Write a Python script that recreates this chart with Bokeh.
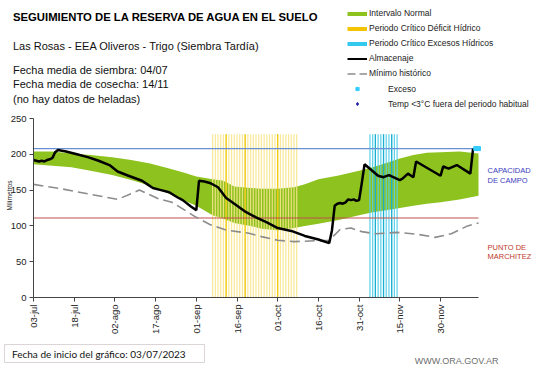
import math
from bokeh.plotting import figure
from bokeh.models import Range1d, FixedTicker, Label, Legend, LegendItem, BoxAnnotation
from bokeh.embed import file_html
from bokeh.resources import INLINE

# ---------------- data (days since 03/07/2023, millimetres) ----------------
tick_days = [0, 15, 30, 45, 60, 75, 90, 105, 120, 135, 150]
tick_labels = ["03-jul", "18-jul", "02-ago", "17-ago", "01-sep", "16-sep",
               "01-oct", "16-oct", "31-oct", "15-nov", "30-nov"]
y_ticks = [0, 50, 100, 150, 200, 250]
dia_fin = 164
y_max = 250

band_day = [0, 7, 14, 21, 29, 36, 43, 50, 55, 60, 66, 70, 74, 80, 84, 90, 96,
            100, 105, 112, 120, 125, 130, 135, 140, 145, 150, 157, 164]
band_upper = [204, 204, 201, 199, 196, 192, 187, 180, 175, 169, 165, 163, 155,
              153, 152, 152, 154, 158, 165, 170, 177, 182, 188, 194, 199, 202,
              203, 204, 201]
band_lower = [186, 184, 182, 177, 171, 164, 156, 145, 136, 128, 115, 110, 104,
              100, 96, 94, 97, 100, 103, 108, 115, 119, 122, 125, 128, 131,
              133, 137, 142]

almac_day = [0, 1, 2, 3, 4, 5, 6, 7, 8, 9, 12, 16, 20, 24, 28, 31, 35, 40, 42,
             44, 47, 50, 53, 55, 58, 60, 61, 63, 65, 68, 71, 74, 78, 82, 86,
             90, 95, 100, 105, 109, 110, 111, 112, 113, 114, 115, 116, 117,
             118, 119, 120, 121, 122, 127, 129, 131, 135, 136, 138, 140, 141,
             150, 151, 153, 156, 161, 162]
almac_mm = [192, 191, 190, 191, 190, 192, 193, 195, 203, 206, 204, 200, 196,
            191, 185, 176, 170, 163, 158, 153, 150, 147, 140, 136, 127, 122,
            163, 162, 160, 154, 139, 131, 120, 112, 105, 97, 93, 86, 81, 76,
            94, 128, 131, 132, 131, 133, 137, 136, 137, 135, 136, 160, 186,
            170, 168, 171, 164, 166, 173, 168, 190, 170, 183, 180, 185, 173,
            208]

min_day = [0, 10, 31, 39, 46, 51, 60, 65, 71, 79, 84, 90, 96, 109, 113, 117,
           121, 126, 134, 142, 148, 154, 160, 164]
min_mm = [158, 152, 137, 150, 138, 133, 112, 102, 94, 90, 85, 80, 78, 80, 95,
          97, 92, 89, 91, 88, 84, 89, 100, 104]

deficit_inicio, deficit_fin = 66, 97
deficit_fuertes = [71, 78, 90]
excesos_inicio, excesos_fin = 124, 134
excesos_fuertes = [126, 129, 132]
periodo_tope = 228

exceso_day = [163, 164]
exceso_mm = [208, 208]

capacidad_campo = 208
punto_marchitez = 111

# ---------------- layout geometry (page pixels) ----------------
W, H = 541, 368
PX_X0, PX_X1 = 33, 478      # x of day 0 and of dia_fin
PX_Y0, PX_YM = 297, 118     # y of 0 mm and of y_max
kx = (PX_X1 - PX_X0) / dia_fin
ky = (PX_Y0 - PX_YM) / y_max
FONT = "Liberation Sans"
NAN = float("nan")

p = figure(width=W, height=H, title=None, output_backend="svg",
           toolbar_location=None,
           x_range=Range1d(-PX_X0 / kx, (W - PX_X0) / kx),
           y_range=Range1d(-(H - PX_Y0) / ky, PX_Y0 / ky),
           min_border=0)
p.outline_line_color = None
p.xgrid.visible = False
p.ygrid.visible = False
p.background_fill_color = "white"
p.border_fill_color = "white"

# normal interval band
p.varea(x=band_day, y1=band_lower, y2=band_upper, fill_color="#8DC21F")

# critical periods (one thin column per day)
def_days = list(range(deficit_inicio, deficit_fin + 1))
p.segment(x0=def_days, y0=[0] * len(def_days), x1=def_days,
          y1=[periodo_tope] * len(def_days), line_color="#F7E58C",
          line_width=1.2, line_alpha=0.9)
p.segment(x0=deficit_fuertes, y0=[0] * len(deficit_fuertes), x1=deficit_fuertes,
          y1=[periodo_tope] * len(deficit_fuertes), line_color="#F0C800",
          line_width=1.2)
exc_days = list(range(excesos_inicio, excesos_fin + 1))
p.segment(x0=exc_days, y0=[0] * len(exc_days), x1=exc_days,
          y1=[periodo_tope] * len(exc_days), line_color="#55CFEA",
          line_width=1.2, line_alpha=0.95)
p.segment(x0=excesos_fuertes, y0=[0] * len(excesos_fuertes), x1=excesos_fuertes,
          y1=[periodo_tope] * len(excesos_fuertes), line_color="#1AAFD0",
          line_width=1.2)

# reference levels
p.line([0, dia_fin], [capacidad_campo] * 2, line_color="#6A8FD3", line_width=1.2)
p.line([0, dia_fin], [punto_marchitez] * 2, line_color="#C0504D", line_width=1.2)

p.line(min_day, min_mm, line_color="#8C8C8C", line_width=1.6, line_dash="10 5")
p.line(almac_day, almac_mm, line_color="black", line_width=2.5)
p.scatter(exceso_day, exceso_mm, marker="square", size=4, color="#33CCFF")

# axes drawn at fixed data locations inside the full-canvas frame
p.xaxis.ticker = FixedTicker(ticks=tick_days)
p.xaxis.major_label_overrides = {d: l for d, l in zip(tick_days, tick_labels)}
p.xaxis.major_label_orientation = math.pi / 2
p.xaxis.fixed_location = 0
p.xaxis.bounds = (0, dia_fin)
p.yaxis.ticker = FixedTicker(ticks=y_ticks)
p.yaxis.fixed_location = 0
p.yaxis.bounds = (0, y_max)
for ax in (p.xaxis[0], p.yaxis[0]):
    ax.minor_tick_line_color = None
    ax.major_tick_in = 0
    ax.major_tick_out = 4
    ax.axis_line_color = "#444444"
    ax.major_tick_line_color = "#444444"
    ax.major_label_text_font = FONT
    ax.major_label_text_font_size = "9.5px"
    ax.major_label_text_color = "#222222"
    ax.major_label_standoff = 3

# legend (renderers with a single empty point, used only as legend keys)
r_band = p.line([NAN], [NAN], line_color="#8DC21F", line_width=4)
r_def = p.line([NAN], [NAN], line_color="#F5C400", line_width=4)
r_exc = p.line([NAN], [NAN], line_color="#33C9EE", line_width=4)
r_alm = p.line([NAN], [NAN], line_color="black", line_width=2)
r_min = p.line([NAN], [NAN], line_color="#8C8C8C", line_width=1.6, line_dash="8 4")
r_ex = p.scatter([NAN], [NAN], marker="square", size=3, color="#33CCFF")
r_tmp = p.scatter([NAN], [NAN], marker="diamond", size=7, color="#1F1FA8")

def mk_legend(items, ix, iy_bottom, standoff, gw):
    lg = Legend(items=items, location=(ix, H - iy_bottom))
    lg.background_fill_alpha = 0
    lg.border_line_alpha = 0
    lg.padding = 0
    lg.margin = 0
    lg.spacing = 0
    lg.label_height = 15
    lg.glyph_height = 15
    lg.glyph_width = gw
    lg.label_standoff = standoff
    lg.label_text_font = FONT
    lg.label_text_font_size = "8.5px"
    lg.label_text_color = "#1a1a1a"
    return lg

leg1 = mk_legend([LegendItem(label="Intervalo Normal", renderers=[r_band]),
                  LegendItem(label="Periodo Crítico Déficit Hídrico", renderers=[r_def]),
                  LegendItem(label="Periodo Crítico Excesos Hídricos", renderers=[r_exc]),
                  LegendItem(label="Almacenaje", renderers=[r_alm]),
                  LegendItem(label="Mínimo histórico", renderers=[r_min])],
                 347, 80.5, 2, 20)
leg2 = mk_legend([LegendItem(label="Exceso", renderers=[r_ex]),
                  LegendItem(label="Temp <3°C fuera del periodo habitual", renderers=[r_tmp])],
                 353, 111, 27, 8)
p.add_layout(leg1)
p.add_layout(leg2)

def lab(text, ix, iy, size, color="#000000", bold=False, align="left",
        angle=0.0, font=FONT):
    p.add_layout(Label(x=ix, y=H - iy, x_units="screen", y_units="screen",
                       text=text, text_font=font, text_font_size=f"{size}px",
                       text_color=color,
                       text_font_style="bold" if bold else "normal",
                       text_align=align, text_baseline="middle", angle=angle))

lab("SEGUIMIENTO DE LA RESERVA DE AGUA  EN EL SUELO", 12.5, 16, 11.3, bold=True)
lab("Las Rosas - EEA Oliveros - Trigo (Siembra Tardía)", 12.5, 45, 11, "#111111")
lab("Fecha media de siembra: 04/07", 12.5, 69, 11, "#111111")
lab("Fecha media de cosecha: 14/11", 12.5, 83.5, 11, "#111111")
lab("(no hay  datos de heladas)", 12.5, 98, 11, "#111111")

lab("Milímetros", 9, 195, 6.5, "#222222", align="center", angle=math.pi / 2)

lab("CAPACIDAD", 487, 170, 7.5, "#3B3BC0")
lab("DE  CAMPO", 487, 179.5, 7.5, "#3B3BC0")
lab("PUNTO   DE", 487, 246.5, 7.5, "#C0392B")
lab("MARCHITEZ", 487, 256, 7.5, "#C0392B")

lab("WWW.ORA.GOV.AR", 498, 360, 9, "#6E6E6E", align="right")

# start-date box
p.add_layout(BoxAnnotation(left=4, right=204, top=H - 344, bottom=H - 362,
                           left_units="screen", right_units="screen",
                           top_units="screen", bottom_units="screen",
                           fill_color="white", fill_alpha=1,
                           line_color="#8C7474", line_width=1))
lab("Fecha de inicio del gráfico:  03/07/2023", 11.5, 353, 10, "#111111", font="Lato")

open("out.html", "w").write(file_html(p, INLINE))
